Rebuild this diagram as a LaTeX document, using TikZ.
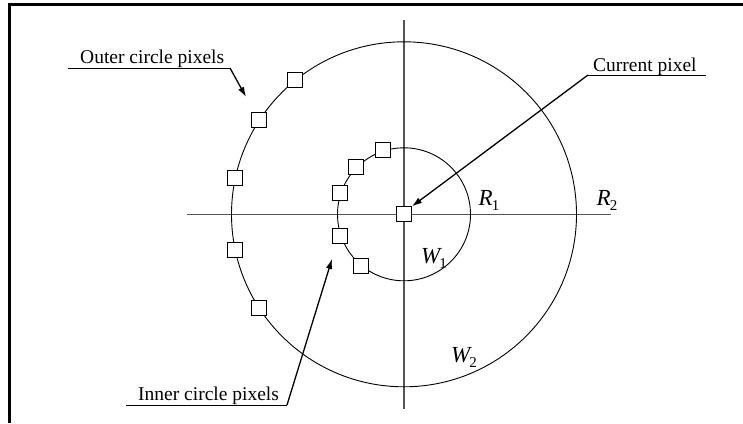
\documentclass[tikz,border=0pt]{standalone}
\usepackage{fontspec}
\setmainfont{Liberation Serif}
\usepackage{tikz}
\usetikzlibrary{arrows.meta,positioning,calc}
\definecolor{Axis}{HTML}{555555}
\tikzset{
  arr/.style={-{Latex[length=10pt,width=6.5pt]},line width=1.3pt,draw=black},
  pix/.style={draw=black,fill=white,line width=0.9pt,minimum size=15pt,inner sep=0pt},
  axisline/.style={draw=Axis,line width=1.4pt},
  ring/.style={draw=black,line width=0.9pt},
  lbl/.style={font=\fontsize{19.5}{22}\selectfont,inner sep=0pt,anchor=base west},
  sym/.style={font=\fontsize{23}{26}\selectfont\itshape,inner sep=0pt}
}
\newcommand{\symsub}[2]{#1\kern-1pt\raisebox{-5pt}{\fontsize{15}{16}\selectfont\upshape #2}}

\begin{document}
\begin{tikzpicture}[x=1pt,y=-1pt]
  \useasboundingbox (0,0) rectangle (743,423);
  % frame
  \draw[line width=2.4pt] (9.5,423) -- (9.5,4.5) -- (743,4.5);
  % axes and circles
  \coordinate (c) at (404,214.3);
  \draw[axisline] (187,214.3) -- (611,214.3);
  \draw[axisline] (404,20) -- (404,409);
  \draw[ring] (c) circle[radius=172.5];
  \draw[ring] (c) circle[radius=66.5];
  % pixels
  \foreach \a in {129,147,168,192,213} \node[pix] at ($(c)+(-\a:172.5)$) {};
  \foreach \a in {108,135,162,199,230} \node[pix] at ($(c)+(-\a:67.5)$) {};
  \node[pix] (cur) at (c) {};
  % labels
  \node[sym] (r1) at (489,200) {\symsub{R}{1}};
  \node[sym] (r2) at (607,200) {\symsub{R}{2}};
  \node[sym] (w1) at (434,258) {\symsub{W}{1}};
  \node[sym] (w2) at (464,357) {\symsub{W}{2}};
  \node[lbl] (outer) at (80,63) {Outer circle pixels};
  \node[lbl] (current) at (593,71) {Current pixel};
  \node[lbl] (inner) at (138,400) {Inner circle pixels};
  % leaders
  \coordinate (ou1) at (68,68);\coordinate (ou2) at (230,68);\coordinate (outip) at (246,97);
  \draw[line width=1pt] (ou1) -- (ou2);\draw[arr] (ou2) -- (outip);
  \coordinate (cu1) at (706,75);\coordinate (cu2) at (588,75);
  \draw[line width=1pt] (cu1) -- (cu2);\draw[arr] (cu2) -- (cur.north east);
  \coordinate (in1) at (126,405);\coordinate (in2) at (287,405);\coordinate (intip) at (332,259);
  \draw[line width=1pt] (in1) -- (in2);\draw[arr] (in2) -- (intip);
\end{tikzpicture}
\end{document}
